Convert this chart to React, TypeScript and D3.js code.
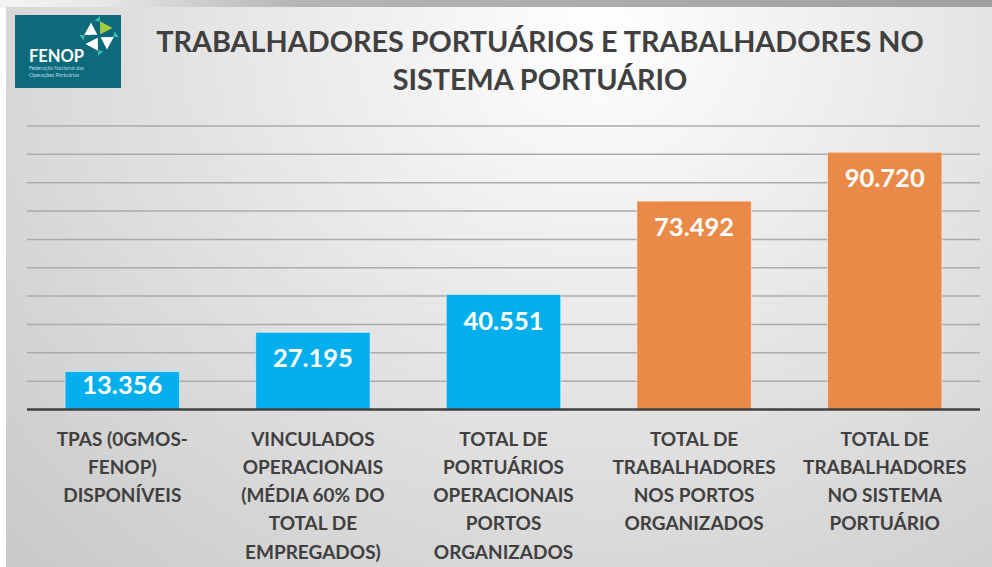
import React from "react";
import * as d3 from "d3";

// chart values
const categories: string[][] = [
  ["TPAS (0GMOS-", "FENOP)", "DISPONÍVEIS"],
  ["VINCULADOS", "OPERACIONAIS", "(MÉDIA 60% DO", "TOTAL DE", "EMPREGADOS)"],
  ["TOTAL DE", "PORTUÁRIOS", "OPERACIONAIS", "PORTOS", "ORGANIZADOS"],
  ["TOTAL DE", "TRABALHADORES", "NOS PORTOS", "ORGANIZADOS"],
  ["TOTAL DE", "TRABALHADORES", "NO SISTEMA", "PORTUÁRIO"],
];
const values: number[] = [13356, 27195, 40551, 73492, 90720];
const barColors: string[] = ["#05afee", "#05afee", "#05afee", "#ea8a48", "#ea8a48"];
const gridTicks: number[] = [10000, 20000, 30000, 40000, 50000, 60000, 70000, 80000, 90000, 100000];
const titleLines: string[] = ["TRABALHADORES PORTUÁRIOS E TRABALHADORES NO", "SISTEMA PORTUÁRIO"];

const W = 992;
const H = 567;
const FONT = "Lato, 'Open Sans', sans-serif";

const fmt = (v: number) => d3.format(",")(v).replace(/,/g, ".");

function Logo() {
  const cx = 99;
  const cy = 36;
  // one petal of the pinwheel, drawn in the upper-right quadrant and rotated
  const petal = "M1.5,-1.5 L3,-14.5 L14.5,-6 Z";
  const tip = "M-2,-16 L4,-19.5 L2.5,-14 Z";
  const angles = [0, 90, 180, 270];
  const petalFill = ["#a5cc3b", "#ffffff", "#ffffff", "#ffffff"];
  return (
    <g>
      <rect x={15} y={15} width={106} height={73} fill="#0c6a7b" />
      <g transform={`translate(${cx},${cy}) rotate(-8)`}>
        {angles.map((a, i) => (
          <g key={a} transform={`rotate(${a})`}>
            <path d={petal} fill={petalFill[i]} />
            <path d={tip} fill="#3cc3b0" />
          </g>
        ))}
      </g>
      <text x={29} y={62} fill="#ffffff" fontFamily={FONT} fontWeight={700} fontSize={16.5}>
        FENOP
      </text>
      <text x={29} y={70} fill="#b8dde2" fontFamily={FONT} fontSize={5.3}>
        Federação Nacional das
      </text>
      <text x={29} y={76.5} fill="#b8dde2" fontFamily={FONT} fontSize={5.3}>
        Operações Portuárias
      </text>
    </g>
  );
}

export default function App() {
  const x = d3
    .scaleBand<number>()
    .domain(d3.range(values.length))
    .range([27, 980])
    .paddingInner(0.4)
    .paddingOuter(0.2);
  const y = d3.scaleLinear().domain([0, 100000]).range([409.5, 126]);
  const base = y(0);

  return (
    <svg
      width={W}
      height={H}
      style={{ position: "absolute", left: 0, top: 0 }}
      xmlns="http://www.w3.org/2000/svg"
    >
      <defs>
        <radialGradient id="bg" cx="0.6" cy="0.05" r="0.95" gradientTransform="translate(0.6,0.05) scale(1,1.6) translate(-0.6,-0.05)">
          <stop offset="0" stopColor="#ffffff" />
          <stop offset="0.45" stopColor="#e2e2e2" />
          <stop offset="1" stopColor="#c2c2c2" />
        </radialGradient>
        <linearGradient id="topStrip" x1="0" x2="1" y1="0" y2="0">
          <stop offset="0" stopColor="#f4f4f4" />
          <stop offset="0.1" stopColor="#e8e8e8" />
          <stop offset="0.3" stopColor="#b5b5b5" />
          <stop offset="1" stopColor="#a0a0a0" />
        </linearGradient>
      </defs>
      <rect x={0} y={0} width={W} height={H} fill="#ffffff" />
      <rect x={0} y={0} width={W} height={8} fill="url(#topStrip)" />
      <rect x={6} y={7} width={W - 6} height={H - 7} fill="url(#bg)" />

      <Logo />

      {titleLines.map((t, i) => (
        <text
          key={t}
          x={540}
          y={52 + i * 38}
          textAnchor="middle"
          fill="#404040"
          fontFamily={FONT}
          fontWeight={700}
          fontSize={28.8}
        >
          {t}
        </text>
      ))}

      {gridTicks.map((t) => (
        <line key={t} x1={27} x2={980} y1={y(t)} y2={y(t)} stroke="#ababab" strokeWidth={1.5} />
      ))}

      {values.map((v, i) => {
        const top = y(v);
        const labelY = Math.min(top + 35, base - 16);
        return (
          <g key={i}>
            <rect
              x={x(i)}
              y={top}
              width={x.bandwidth()}
              height={base - top}
              fill={barColors[i]}
              stroke="rgba(255,255,255,0.45)"
              strokeWidth={1}
            />
            <text
              x={(x(i) ?? 0) + x.bandwidth() / 2}
              y={labelY}
              textAnchor="middle"
              fill="#ffffff"
              fontFamily={FONT}
              fontWeight={700}
              fontSize={25.5}
            >
              {fmt(v)}
            </text>
          </g>
        );
      })}

      <line x1={27} x2={980} y1={base} y2={base} stroke="#404040" strokeWidth={2.5} />

      {categories.map((lines, i) => (
        <text
          key={i}
          textAnchor="middle"
          fill="#404040"
          fontFamily={FONT}
          fontWeight={700}
          fontSize={19}
        >
          {lines.map((ln, j) => (
            <tspan key={j} x={(x(i) ?? 0) + x.bandwidth() / 2} y={445.5 + j * 28.3}>
              {ln}
            </tspan>
          ))}
        </text>
      ))}
    </svg>
  );
}
